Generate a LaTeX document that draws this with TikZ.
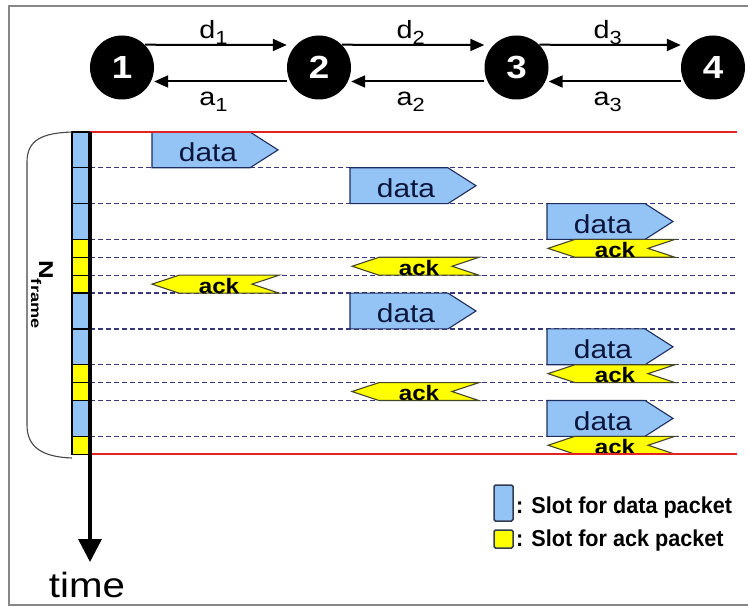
\documentclass[tikz,border=0pt]{standalone}
\usepackage{fontspec}
\setmainfont{Liberation Sans}
\newfontfamily\widesans[FakeStretch=1.15]{Liberation Sans}
\newfontfamily\narrowsans[FakeStretch=0.94]{Liberation Sans}
\newfontfamily\tallsans[FakeStretch=1.3]{Liberation Sans}
\usetikzlibrary{arrows.meta,calc}

\definecolor{slotblue}{RGB}{148,196,245}
\definecolor{slotyellow}{RGB}{255,255,0}
\definecolor{pktline}{RGB}{30,45,95}
\definecolor{ackline}{RGB}{70,70,40}
\definecolor{gridline}{RGB}{55,55,125}
\definecolor{framered}{RGB}{225,35,35}
\definecolor{datatext}{RGB}{12,22,60}
\definecolor{bordergray}{RGB}{135,135,135}
\definecolor{bracegray}{RGB}{70,70,70}
\definecolor{legline}{RGB}{50,60,80}

\tikzset{
  station/.style={circle,fill=black,minimum size=64pt,inner sep=0pt,text=white,
    font=\widesans\bfseries\fontsize{32}{32}\selectfont},
  link/.style={line width=2pt,-{Triangle[length=14pt,width=12pt]}},
  lbl/.style={font=\widesans\fontsize{25}{25}\selectfont,inner sep=0pt,anchor=base},
  slotd/.style={draw=black,line width=1.3pt,fill=slotblue},
  slota/.style={draw=black,line width=1.3pt,fill=slotyellow},
  gridrule/.style={gridline,line width=1.3pt,dash pattern=on 4.5pt off 3.5pt},
  bound/.style={framered,line width=1.6pt},
  datashape/.style={draw=pktline,line width=1.1pt,fill=slotblue},
  ackshape/.style={draw=ackline,line width=1.1pt,fill=slotyellow},
  datalbl/.style={font=\widesans\fontsize{26}{26}\selectfont,text=datatext,inner sep=0pt,anchor=base},
  acklbl/.style={font=\widesans\bfseries\fontsize{21}{21}\selectfont,inner sep=0pt,anchor=base},
  legtext/.style={font=\narrowsans\bfseries\fontsize{23}{23}\selectfont,inner sep=0pt,anchor=base west},
  pics/datapkt/.style={code={
    \path[datashape] (0,0) -- (98,0) -- (126,17.9) -- (98,35.8) -- (0,35.8) -- cycle;
    \node[datalbl] (-txt) at (56,29.5) {data};
  }},
  pics/ackpkt/.style={code={
    \path[ackshape] (0,8.95) -- (27,0) -- (127,0) -- (100,8.95) -- (127,17.9) -- (27,17.9) -- cycle;
    \node[acklbl] (-txt) at (67,17.9) {ack};
  }}
}

\begin{document}
\begin{tikzpicture}[x=1pt,y=-1pt]
\useasboundingbox (0,0) rectangle (748,607);
\fill[white] (0,0) rectangle (748,607);

% outer frame
\draw[bordergray,line width=1.8pt] (748,6) -- (9,6) -- (9,605) -- (748,605);

% stations
\node[station] (s1) at (122,67.5) {1};
\node[station] (s2) at (319,67.5) {2};
\node[station] (s3) at (516.5,67.5) {3};
\node[station] (s4) at (713,67.5) {4};

% data links (forward) and ack links (backward)
\draw[link] (s1.45) -- ([yshift=22.5pt]s2.west);
\draw[link] (s2.45) -- ([yshift=22.5pt]s3.west);
\draw[link] (s3.45) -- ([yshift=22.5pt]s4.west);
\draw[link] ([yshift=-14pt]s2.west) -- ([yshift=-14pt]s1.east);
\draw[link] ([yshift=-14pt]s3.west) -- ([yshift=-14pt]s2.east);
\draw[link] ([yshift=-14pt]s4.west) -- ([yshift=-14pt]s3.east);

\node[lbl] (d1) at ($(s1)!0.5!(s2)+(-7,-29)$) {d\raisebox{-6pt}{\fontsize{19}{19}\selectfont 1}};
\node[lbl] (d2) at ($(s2)!0.5!(s3)+(-7,-29)$) {d\raisebox{-6pt}{\fontsize{19}{19}\selectfont 2}};
\node[lbl] (d3) at ($(s3)!0.5!(s4)+(-7,-29)$) {d\raisebox{-6pt}{\fontsize{19}{19}\selectfont 3}};
\node[lbl] (a1) at ($(s1)!0.5!(s2)+(-7,38.5)$) {a\raisebox{-6pt}{\fontsize{19}{19}\selectfont 1}};
\node[lbl] (a2) at ($(s2)!0.5!(s3)+(-7,38.5)$) {a\raisebox{-6pt}{\fontsize{19}{19}\selectfont 2}};
\node[lbl] (a3) at ($(s3)!0.5!(s4)+(-7,38.5)$) {a\raisebox{-6pt}{\fontsize{19}{19}\selectfont 3}};

% slot boundaries
\foreach \yy in {167.8,203.6,239.4,257.3,275.2,293.1,328.9,364.7,382.6,400.5,436.3}
  \draw[gridrule] (90,\yy) -- (737,\yy);

% slot column
\foreach \t/\b/\s in {132/167.8/slotd,167.8/203.6/slotd,203.6/239.4/slotd,
    239.4/257.3/slota,257.3/275.2/slota,275.2/293.1/slota,
    293.1/328.9/slotd,328.9/364.7/slotd,364.7/382.6/slota,
    382.6/400.5/slota,400.5/436.3/slotd,436.3/454.2/slota}
  \draw[\s] (72,\t) rectangle (90,\b);

% packets
\pic (pk1) at (152,132) {datapkt};
\pic (pk2) at (350,167.8) {datapkt};
\pic (pk3) at (547,203.6) {datapkt};
\pic (pk4) at (548,239.4) {ackpkt};
\pic (pk5) at (352,257.3) {ackpkt};
\pic (pk6) at (152,275.2) {ackpkt};
\pic (pk7) at (350,293.1) {datapkt};
\pic (pk8) at (547,328.9) {datapkt};
\pic (pk9) at (548,364.7) {ackpkt};
\pic (pk10) at (352,382.6) {ackpkt};
\pic (pk11) at (547,400.5) {datapkt};
\pic (pk12) at (548,436.3) {ackpkt};

% frame limits
\draw[bound] (90,132) -- (737,132);
\draw[bound] (90,454.2) -- (737,454.2);

% frame bracket and its label
\draw[bracegray,line width=1.1pt] (72,132) .. controls (42,133) and (27,140) .. (27,162)
  -- (27,425) .. controls (27,447) and (42,457) .. (72,458);
\node[rotate=-90,anchor=base west,inner sep=0pt] (nframe) at (39,260)
  {\tallsans\bfseries\fontsize{20}{20}\selectfont N\raisebox{-8pt}{\fontsize{14}{14}\selectfont frame}};

% time axis
\coordinate (tstart) at (90,132);
\coordinate (tend) at (90,562);
\draw[line width=3.5pt,-{Triangle[length=23pt,width=23pt]}] (tstart) -- (tend);
\node[font=\widesans\fontsize{35}{35}\selectfont,inner sep=0pt,anchor=base] (timelbl) at (87,597) {time};

% legend
\node[draw=legline,line width=1.5pt,fill=slotblue,rounded corners=1.5pt,
  minimum width=19pt,minimum height=36pt,inner sep=0pt] (legd) at (503.5,503) {};
\node[draw=legline,line width=1.5pt,fill=slotyellow,rounded corners=1.5pt,
  minimum width=19pt,minimum height=18pt,inner sep=0pt] (lega) at (503.5,539) {};
\node[legtext] (legdtxt) at (516,513) {: Slot for data packet};
\node[legtext] (legatxt) at (516,546) {: Slot for ack packet};
\end{tikzpicture}
\end{document}
